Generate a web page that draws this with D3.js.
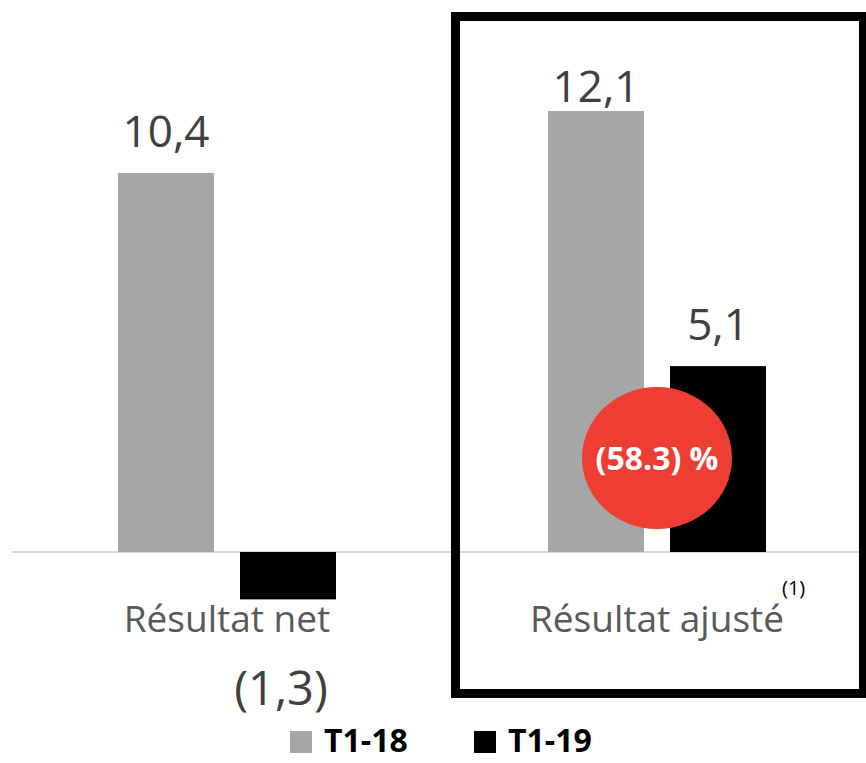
<!DOCTYPE html>
<html>
<head>
<meta charset="utf-8">
<script src="https://cdn.jsdelivr.net/npm/d3@7"></script>
<style>
  body { margin: 0; background: #fff; }
  svg { display: block; font-family: "Open Sans", sans-serif; }
</style>
</head>
<body>
<script>
(function () {

    //chart data
    var categories = ["Résultat net", "Résultat ajusté"];
    var series = ["T1-18", "T1-19"];
    var valuesT118 = [10.4, 12.1];
    var valuesT119 = [-1.3, 5.1];
    var valueLabels = [["10,4", "12,1"], ["(1,3)", "5,1"]];
    var seriesColors = ["#a6a6a6", "#000000"];
    var badgeText = "(58.3) %";
    var footnote = "(1)";

    var width = 866,
        height = 763;

    var svg = d3.select("body")
        .append("svg")
        .attr("width", width)
        .attr("height", height);

    //build rows from the arrays
    var rows = categories.map(function (c, i) {
        return {
            cat: c,
            vals: [
                { s: series[0], v: valuesT118[i], label: valueLabels[0][i], color: seriesColors[0] },
                { s: series[1], v: valuesT119[i], label: valueLabels[1][i], color: seriesColors[1] }
            ]
        };
    });

    //scales
    var x0 = d3.scaleBand().domain(categories).range([12, 872]).padding(0);
    var groupWidth = 218;
    var x1 = d3.scaleBand().domain(series).range([0, groupWidth]).paddingInner(0.2131);
    var groupOffset = (x0.bandwidth() - groupWidth) / 2;
    var y = d3.scaleLinear().domain([0, 12.1]).range([552, 111]);

    //zero line
    svg.append("line")
        .attr("x1", 12)
        .attr("x2", width)
        .attr("y1", y(0))
        .attr("y2", y(0))
        .attr("stroke", "#d9d9d9")
        .attr("stroke-width", 2);

    var groups = svg.selectAll(".group")
        .data(rows)
        .enter()
        .append("g")
        .attr("class", "group")
        .attr("transform", function (d) {
            return "translate(" + (x0(d.cat) + groupOffset) + ",0)";
        });

    //bars
    groups.selectAll("rect")
        .data(function (d) { return d.vals; })
        .enter()
        .append("rect")
        .attr("x", function (d) { return x1(d.s); })
        .attr("width", x1.bandwidth())
        .attr("y", function (d) { return Math.min(y(d.v), y(0)); })
        .attr("height", function (d) { return Math.abs(y(d.v) - y(0)); })
        .attr("fill", function (d) { return d.color; });

    //value labels
    groups.selectAll(".value")
        .data(function (d) { return d.vals; })
        .enter()
        .append("text")
        .attr("class", "value")
        .attr("x", function (d) { return x1(d.s) + x1.bandwidth() / 2 - (d.v < 0 ? 7 : 0); })
        .attr("y", function (d) {
            if (d.v < 0) return y(d.v) + 106;
            return Math.max(y(d.v) - 26, 102);
        })
        .attr("text-anchor", "middle")
        .attr("font-size", function (d) { return d.v < 0 ? 47 : 44; })
        .attr("fill", "#404040")
        .text(function (d) { return d.label; });

    //category labels
    svg.selectAll(".cat")
        .data(categories)
        .enter()
        .append("text")
        .attr("class", "cat")
        .attr("x", function (d) { return x0(d) + x0.bandwidth() / 2; })
        .attr("y", 632)
        .attr("text-anchor", "middle")
        .attr("font-size", 37)
        .attr("fill", "#595959")
        .text(function (d) { return d; });

    //footnote marker
    svg.append("text")
        .attr("x", x0(categories[1]) + x0.bandwidth() / 2 + 125)
        .attr("y", 595)
        .attr("font-size", 20)
        .attr("fill", "#000")
        .text(footnote);

    //highlight box around adjusted result
    svg.append("rect")
        .attr("x", 455.5)
        .attr("y", 16.5)
        .attr("width", 408)
        .attr("height", 677)
        .attr("fill", "none")
        .attr("stroke", "#000")
        .attr("stroke-width", 9);

    //change badge
    var bx = x0(categories[1]) + x0.bandwidth() / 2;
    svg.append("ellipse")
        .attr("cx", bx)
        .attr("cy", 458)
        .attr("rx", 75)
        .attr("ry", 71)
        .attr("fill", "#ee3e33");

    svg.append("text")
        .attr("x", bx)
        .attr("y", 470)
        .attr("text-anchor", "middle")
        .attr("font-size", 32)
        .attr("font-weight", "bold")
        .attr("fill", "#fff")
        .text(badgeText);

    //legend
    var legendX = [290, 474];
    var legend = svg.selectAll(".legend")
        .data(series)
        .enter()
        .append("g")
        .attr("class", "legend")
        .attr("transform", function (d, i) { return "translate(" + legendX[i] + ",0)"; });

    legend.append("rect")
        .attr("x", 0)
        .attr("y", 731)
        .attr("width", 22)
        .attr("height", 22)
        .attr("fill", function (d, i) { return seriesColors[i]; });

    legend.append("text")
        .attr("x", 34)
        .attr("y", 752)
        .attr("font-size", 32)
        .attr("font-weight", "bold")
        .attr("fill", "#000")
        .text(function (d) { return d; });

})();
</script>
</body>
</html>
